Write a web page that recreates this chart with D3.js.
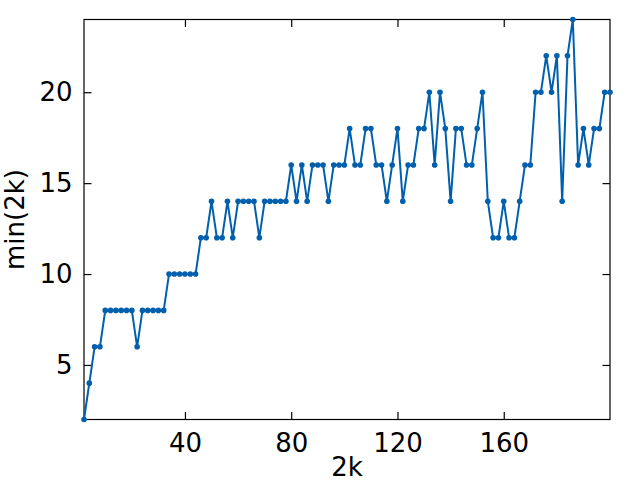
<!DOCTYPE html>
<html>
<head>
<meta charset="utf-8">
<script src="https://cdn.jsdelivr.net/npm/d3@7"></script>
<style>
  html, body { margin: 0; padding: 0; background: #fff; }
  svg { display: block; font-family: "DejaVu Sans", sans-serif; }
</style>
</head>
<body>
<svg id="chart" width="640" height="480"></svg>
<script>
// x values: 2k for k = 1..100
const xValues = d3.range(2, 201, 2);
// min(2k) values
const yValues = [
  2, 4, 6, 6, 8, 8, 8, 8, 8, 8,
  6, 8, 8, 8, 8, 8, 10, 10, 10, 10,
  10, 10, 12, 12, 14, 12, 12, 14, 12, 14,
  14, 14, 14, 12, 14, 14, 14, 14, 14, 16,
  14, 16, 14, 16, 16, 16, 14, 16, 16, 16,
  18, 16, 16, 18, 18, 16, 16, 14, 16, 18,
  14, 16, 16, 18, 18, 20, 16, 20, 18, 14,
  18, 18, 16, 16, 18, 20, 14, 12, 12, 14,
  12, 12, 14, 16, 16, 20, 20, 22, 20, 22,
  14, 22, 24, 16, 18, 16, 18, 18, 20, 20
];
const xTicks = [40, 80, 120, 160];
const yTicks = [5, 10, 15, 20];
const xLabel = "2k";
const yLabel = "min(2k)";

const data = xValues.map((x, i) => ({ x, y: yValues[i] }));

const svg = d3.select("#chart");
const L = 84, R = 610, T = 19.5, B = 419.5;
const color = "#0060ad";

const x = d3.scaleLinear().domain([2, 200]).range([L, R]);
const y = d3.scaleLinear().domain([2, 24]).range([B, T]);

const tickLen = 7.5;
const fontSize = 26;

// axes with inward ticks on all four sides
const axBottom = svg.append("g").attr("transform", `translate(0,${B})`)
  .call(d3.axisBottom(x).tickValues(xTicks).tickSizeInner(-tickLen).tickSizeOuter(0).tickPadding(tickLen + 7));
const axTop = svg.append("g").attr("transform", `translate(0,${T})`)
  .call(d3.axisTop(x).tickValues(xTicks).tickSizeInner(-tickLen).tickSizeOuter(0).tickFormat(""));
const axLeft = svg.append("g").attr("transform", `translate(${L},0)`)
  .call(d3.axisLeft(y).tickValues(yTicks).tickSizeInner(-tickLen).tickSizeOuter(0).tickPadding(tickLen + 4));
const axRight = svg.append("g").attr("transform", `translate(${R},0)`)
  .call(d3.axisRight(y).tickValues(yTicks).tickSizeInner(-tickLen).tickSizeOuter(0).tickFormat(""));

[axBottom, axTop, axLeft, axRight].forEach(g => {
  g.select(".domain").remove();
  g.selectAll(".tick line").attr("stroke", "#000").attr("stroke-width", 1.2);
  g.selectAll(".tick text").attr("fill", "#000")
    .style("font-size", fontSize + "px").style("font-family", "DejaVu Sans, sans-serif");
});
axBottom.selectAll(".tick text").attr("dy", "0.71em");

// frame
svg.append("rect")
  .attr("x", L).attr("y", T).attr("width", R - L).attr("height", B - T)
  .attr("fill", "none").attr("stroke", "#000").attr("stroke-width", 1.2);

// line
const line = d3.line().x(d => x(d.x)).y(d => y(d.y));
svg.append("path").datum(data)
  .attr("d", line).attr("fill", "none")
  .attr("stroke", color).attr("stroke-width", 2).attr("stroke-linejoin", "round");

// markers
svg.append("g").selectAll("circle").data(data).join("circle")
  .attr("cx", d => x(d.x)).attr("cy", d => y(d.y)).attr("r", 2.8)
  .attr("fill", color);

// axis labels
svg.append("text")
  .attr("x", (L + R) / 2).attr("y", 476)
  .attr("text-anchor", "middle")
  .style("font-size", fontSize + "px")
  .text(xLabel);

svg.append("text")
  .attr("transform", `translate(24,${(T + B) / 2}) rotate(-90)`)
  .attr("text-anchor", "middle")
  .style("font-size", fontSize + "px")
  .text(yLabel);
</script>
</body>
</html>
